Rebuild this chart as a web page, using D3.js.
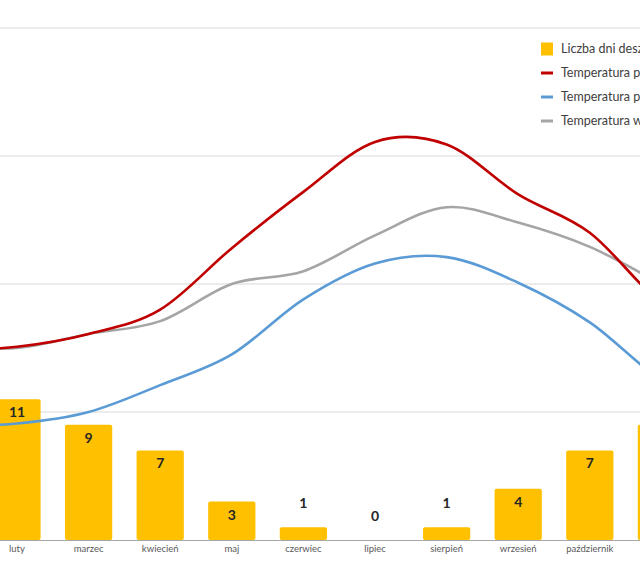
<!DOCTYPE html>
<html>
<head>
<meta charset="utf-8">
<script src="https://cdn.jsdelivr.net/npm/d3@7"></script>
<style>
  body { margin: 0; background: #fff; overflow: hidden; }
  svg { display: block; }
</style>
</head>
<body>
<script>
let w = 640;
let h = 570;

// data (styczeń and grudzień sit outside the crop)
let months = ["styczeń","luty","marzec","kwiecień","maj","czerwiec","lipiec","sierpień","wrzesień","październik","listopad","grudzień"];
let rainDays = [11, 11, 9, 7, 3, 1, 0, 1, 4, 7, 9, 10];
let tempMax = [14.8, 15.1, 16.1, 18.0, 22.8, 27.2, 31.1, 30.9, 27.0, 24.0, 18.5, 15.5];
let tempMin = [8.9, 9.1, 10.0, 12.1, 14.5, 18.8, 21.6, 22.1, 20.1, 17.0, 12.5, 10.0];
let tempWater = [15.2, 15.0, 16.1, 17.1, 20.0, 21.0, 23.8, 26.0, 24.8, 22.9, 20.0, 17.0];
let gridTicks = [0, 10, 20, 30, 40];

let legendItems = [
  {name: "Liczba dni deszczowych", color: "#FFC000", type: "bar"},
  {name: "Temperatura powietrza max", color: "#C00000", type: "line"},
  {name: "Temperatura powietrza min", color: "#5B9BD5", type: "line"},
  {name: "Temperatura wody", color: "#A5A5A5", type: "line"}
];

let step = 71.6;
let x0 = 17 - 1.5 * step; // chart is cropped, first month is off the left edge

let x = d3.scaleBand()
  .domain(months)
  .range([x0, x0 + 12 * step])
  .paddingInner(0.34)
  .paddingOuter(0.17);

let y = d3.scaleLinear().domain([0, 40]).range([540, 28]);

let svg = d3.select("body")
  .append("svg")
  .attr("width", w)
  .attr("height", h)
  .style("font-family", "Lato, 'Open Sans', sans-serif");

// gridlines
svg.append("g")
  .selectAll("line")
  .data(gridTicks.slice(1))
  .enter()
  .append("line")
    .attr("x1", 0)
    .attr("x2", w)
    .attr("y1", d => y(d))
    .attr("y2", d => y(d))
    .attr("stroke", "#d9d9d9")
    .attr("stroke-width", 1);

// bars
svg.append("g")
  .selectAll("rect")
  .data(rainDays)
  .enter()
  .append("rect")
    .attr("x", (d, i) => x(months[i]))
    .attr("y", d => y(d))
    .attr("width", x.bandwidth())
    .attr("height", d => y(0) - y(d))
    .attr("rx", 2)
    .attr("fill", "#FFC000");

// bar labels - inside for taller bars, above for small ones
svg.append("g")
  .selectAll("text")
  .data(rainDays)
  .enter()
  .append("text")
    .attr("x", (d, i) => x(months[i]) + x.bandwidth() / 2)
    .attr("y", d => d >= 3 ? y(d) + 18 : y(d) - 19)
    .attr("text-anchor", "middle")
    .attr("font-size", "14px")
    .attr("font-weight", "bold")
    .attr("fill", "#262626")
    .text(d => d);

// x axis
let xAxis = svg.append("g")
  .attr("transform", "translate(0," + y(0) + ")")
  .call(d3.axisBottom(x).tickSize(0).tickPadding(5));
xAxis.select(".domain").attr("stroke", "#a6a6a6").attr("d", "M0,0.5H" + w);
xAxis.selectAll("text")
  .attr("font-size", "9.5px")
  .attr("fill", "#595959")
  .style("font-family", "Lato, 'Open Sans', sans-serif");

// lines
let line = d3.line()
  .x((d, i) => x(months[i]) + x.bandwidth() / 2)
  .y(d => y(d))
  .curve(d3.curveCardinal.tension(0));

let series = [
  {values: tempWater, color: "#A5A5A5"},
  {values: tempMin, color: "#5B9BD5"},
  {values: tempMax, color: "#C00000"}
];

svg.append("g")
  .selectAll("path")
  .data(series)
  .enter()
  .append("path")
    .attr("d", d => line(d.values))
    .attr("fill", "none")
    .attr("stroke", d => d.color)
    .attr("stroke-width", 2.6)
    .attr("stroke-linecap", "round");

// legend
let legend = svg.append("g")
  .selectAll("g")
  .data(legendItems)
  .enter()
  .append("g")
    .attr("transform", (d, i) => "translate(541," + (49 + i * 24) + ")");

legend.filter(d => d.type == "bar")
  .append("rect")
    .attr("x", 0).attr("y", -6.5)
    .attr("width", 12).attr("height", 13)
    .attr("fill", d => d.color);

legend.filter(d => d.type == "line")
  .append("line")
    .attr("x1", 0).attr("x2", 12)
    .attr("stroke", d => d.color)
    .attr("stroke-width", 3);

legend.append("text")
  .attr("x", 20)
  .attr("dy", "0.35em")
  .attr("font-size", "12.5px")
  .attr("fill", "#404040")
  .text(d => d.name);
</script>
</body>
</html>
